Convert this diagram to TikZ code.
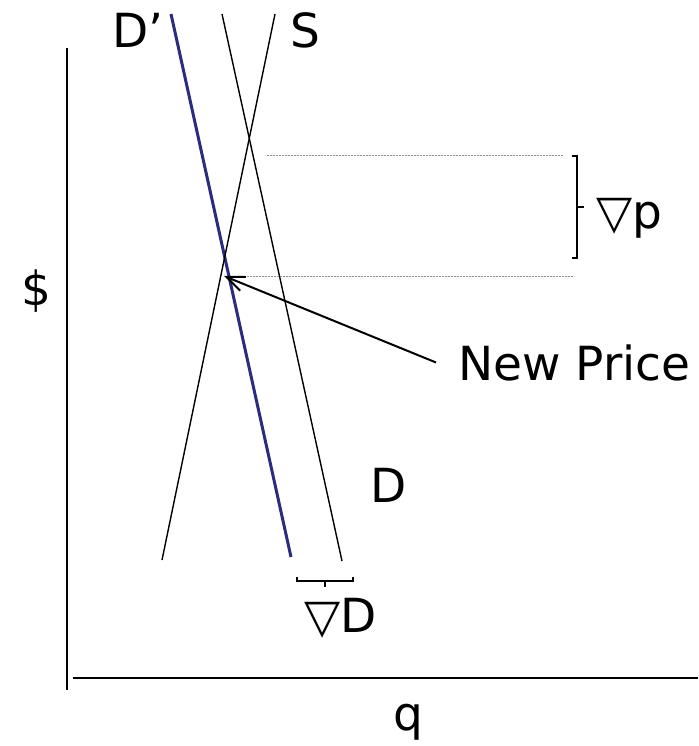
\documentclass[tikz,border=0pt]{standalone}
\usepackage{fontspec}
\setmainfont{DejaVu Sans}
\usetikzlibrary{arrows.meta,positioning}
\definecolor{ink}{HTML}{000000}
\definecolor{shiftblue}{HTML}{2B2B80}
\definecolor{guidegray}{HTML}{8C8C8C}
\tikzset{
  axisline/.style={draw=ink,line width=2pt},
  curveline/.style={draw=ink,line width=1.4pt},
  shiftline/.style={draw=shiftblue,line width=3pt},
  guideline/.style={draw=guidegray,line width=0.9pt,dash pattern=on 2pt off 1pt},
  bracketline/.style={draw=ink,line width=1.6pt},
  biglabel/.style={font=\fontsize{47}{52}\selectfont,inner sep=0pt},
  pointer/.style={-{Straight Barb[length=18pt,width=15pt]},line width=2pt}
}
\begin{document}
\begin{tikzpicture}[x=1pt,y=-1pt]
  \useasboundingbox (0,0) rectangle (698,746);
  % axes
  \draw[axisline] (67,48) -- (67,690);
  \draw[axisline] (73,678) -- (698,678);
  \node[biglabel,anchor=base] (dollar) at (36,305) {\$};
  \node[biglabel,anchor=base] (qlab) at (408,730) {q};

  % supply and demand lines
  \coordinate (dp-top) at (171,14);  \coordinate (dp-bot) at (291,557);
  \coordinate (d-top) at (222,14);   \coordinate (d-bot) at (342,561);
  \coordinate (s-top) at (275,14);   \coordinate (s-bot) at (162,560);
  \draw[shiftline] (dp-top) -- (dp-bot);
  \draw[curveline] (d-top) -- (d-bot);
  \draw[curveline] (s-top) -- (s-bot);
  \node[biglabel,anchor=base west] (dplab) at (112,48) {D’};
  \node[biglabel,anchor=base west] (slab) at (290,48) {S};
  \node[biglabel,anchor=base west] (dlab) at (370,502) {D};

  % old and new price guides
  \coordinate (old-l) at (267,155);  \coordinate (old-r) at (564,155);
  \coordinate (new-l) at (244,276);  \coordinate (new-r) at (573,276);
  \draw[guideline] (old-l) -- (old-r);
  \draw[guideline] (new-l) -- (new-r);

  % price change bracket
  \draw[bracketline] (572,156) -- (577,156) -- (577,258) -- (572,258);
  \draw[bracketline] (577,207) -- (584,207);
  \node[biglabel,anchor=base west] (gradp) at (596,228) {▽p};

  % demand shift bracket
  \draw[bracketline] (297,577) -- (297,581) -- (353,581) -- (353,577);
  \draw[bracketline] (325,581) -- (325,587);
  \node[biglabel,anchor=base west] (gradd) at (304,632) {▽D};

  % new price pointer
  \coordinate (eq) at (224,276);
  \node[biglabel,anchor=base west] (newprice) at (458,380) {New Price};
  \draw[pointer] ([xshift=-22pt]newprice.west) -- (eq);
\end{tikzpicture}
\end{document}
